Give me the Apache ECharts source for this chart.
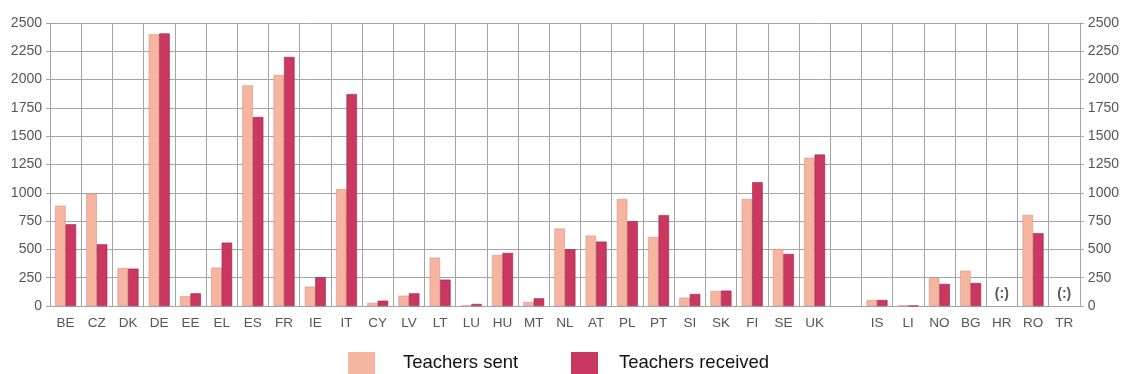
<!DOCTYPE html>
<html>
<head>
<meta charset="utf-8">
<script src="https://cdn.jsdelivr.net/npm/echarts@6/dist/echarts.min.js"></script>
<style>
  html, body { margin: 0; padding: 0; background: #fff; }
  #chart { width: 1122px; height: 374px; }
</style>
</head>
<body>
<div id="chart"></div>
<script>
// Country codes; the empty entry separates EU members from the other countries
var countries = ['BE','CZ','DK','DE','EE','EL','ES','FR','IE','IT','CY','LV','LT','LU','HU','MT','NL','AT','PL','PT','SI','SK','FI','SE','UK','','IS','LI','NO','BG','HR','RO','TR'];

var teachersSent = [887, 993, 335, 2400, 88, 339, 1949, 2040, 171, 1032, 27, 91, 427, 2, 451, 35, 684, 622, 946, 610, 74, 133, 946, 504, 1309, null, 53, 3, 248, 312, null, 805, null];

var teachersReceived = [722, 545, 330, 2408, 112, 560, 1669, 2200, 254, 1872, 47, 112, 233, 18, 469, 68, 501, 569, 749, 802, 106, 136, 1094, 460, 1338, null, 53, 3, 195, 203, null, 643, null];

// Countries without data, marked "(:)"
var notAvailable = ['HR', 'TR'];

var yTicks = [0, 250, 500, 750, 1000, 1250, 1500, 1750, 2000, 2250, 2500];

var SENT_COLOR = '#F5B5A0';
var RECEIVED_COLOR = '#CA3760';
var GRID_COLOR = '#a4a4a4';
var LABEL_COLOR = '#555';
var FONT = 'Liberation Sans, Arial, sans-serif';

var naData = countries.map(function (c) {
  return notAvailable.indexOf(c) >= 0 ? 0 : '-';
});

var chart = echarts.init(document.getElementById('chart'), null, { renderer: 'canvas' });

var yAxisBase = {
  type: 'value',
  min: yTicks[0],
  max: yTicks[yTicks.length - 1],
  interval: yTicks[1] - yTicks[0],
  axisLine: { show: true, lineStyle: { color: GRID_COLOR, width: 1 } },
  axisTick: { show: true, length: 4, lineStyle: { color: GRID_COLOR } },
  axisLabel: {
    color: LABEL_COLOR,
    fontFamily: FONT,
    fontSize: 14,
    formatter: function (v) { return String(v); }
  }
};

var legendBase = {
  top: 352,
  padding: 0,
  itemWidth: 27,
  itemHeight: 22,
  icon: 'rect',
  itemStyle: { borderWidth: 0 },
  textStyle: { color: '#111', fontFamily: FONT, fontSize: 18.5 }
};

chart.setOption({
  backgroundColor: '#fff',
  animation: false,
  grid: { left: 50, right: 42, top: 23, bottom: 68, containLabel: false },
  legend: [
    Object.assign({}, legendBase, {
      left: 348, data: ['Teachers sent'],
      textStyle: Object.assign({}, legendBase.textStyle, { padding: [6, 0, 0, 23] })
    }),
    Object.assign({}, legendBase, {
      left: 571, data: ['Teachers received'],
      textStyle: Object.assign({}, legendBase.textStyle, { padding: [6, 0, 0, 16] })
    })
  ],
  xAxis: {
    type: 'category',
    data: countries,
    boundaryGap: true,
    axisLine: { show: true, lineStyle: { color: GRID_COLOR, width: 1 } },
    axisTick: { show: false },
    splitLine: { show: true, interval: 0, lineStyle: { color: GRID_COLOR, width: 1 } },
    axisLabel: {
      interval: 0,
      margin: 10,
      color: LABEL_COLOR,
      fontFamily: FONT,
      fontSize: 13.5
    }
  },
  yAxis: [
    Object.assign({}, yAxisBase, {
      position: 'left',
      splitLine: { show: true, lineStyle: { color: GRID_COLOR, width: 1 } },
      axisLabel: Object.assign({}, yAxisBase.axisLabel, { margin: 8 })
    }),
    Object.assign({}, yAxisBase, {
      position: 'right',
      splitLine: { show: false },
      axisLabel: Object.assign({}, yAxisBase.axisLabel, { margin: 8, align: 'left' })
    })
  ],
  series: [
    {
      name: 'Teachers sent',
      type: 'bar',
      data: teachersSent,
      barWidth: 10.5,
      barGap: '0%',
      itemStyle: { color: SENT_COLOR, borderColor: '#d9937f', borderWidth: 0.6 }
    },
    {
      name: 'Teachers received',
      type: 'bar',
      data: teachersReceived,
      barWidth: 10.5,
      barGap: '0%',
      itemStyle: { color: RECEIVED_COLOR, borderColor: '#9e2447', borderWidth: 0.6 }
    },
    {
      name: 'not available',
      type: 'scatter',
      data: naData,
      symbolSize: 0,
      silent: true,
      label: {
        show: true,
        position: 'top',
        distance: 5,
        formatter: '(:)',
        color: '#2a2a2a',
        fontFamily: FONT,
        fontWeight: 'bold',
        fontSize: 14
      }
    }
  ]
});
</script>
</body>
</html>
